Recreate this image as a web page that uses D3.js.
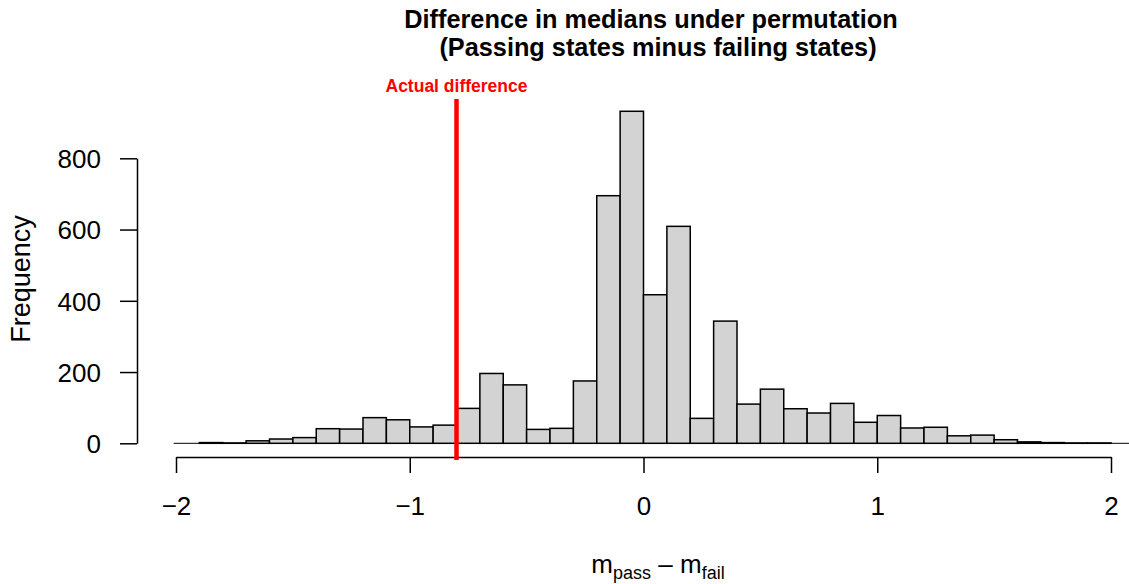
<!DOCTYPE html>
<html>
<head>
<meta charset="utf-8">
<script src="https://cdn.jsdelivr.net/npm/d3@7"></script>
<style>
  html, body { margin: 0; padding: 0; background: #ffffff; }
  svg { display: block; }
</style>
</head>
<body>
<script>
const width = 1129;
const height = 584;
const fontFamily = "'Liberation Sans', Arial, Helvetica, sans-serif";

// histogram bins (lower edge, width 0.1) and counts
const binLow = [-1.9, -1.8, -1.7, -1.6, -1.5, -1.4, -1.3, -1.2, -1.1, -1.0,
  -0.9, -0.8, -0.7, -0.6, -0.5, -0.4, -0.3, -0.2, -0.1, 0.0,
  0.1, 0.2, 0.3, 0.4, 0.5, 0.6, 0.7, 0.8, 0.9, 1.0,
  1.1, 1.2, 1.3, 1.4, 1.5, 1.6, 1.7, 1.8, 1.9];
const counts = [2, 1, 7, 12, 16, 41, 40, 72, 66, 46,
  51, 98, 196, 164, 39, 42, 175, 695, 932, 417,
  609, 70, 343, 110, 152, 97, 85, 112, 59, 78,
  43, 45, 21, 23, 10, 4, 2, 1, 1];
const binWidth = 0.1;

const xTicks = [-2, -1, 0, 1, 2];
const yTicks = [0, 200, 400, 600, 800];
const actualDifference = -0.8;

const svg = d3.select("body")
  .append("svg")
  .attr("width", width)
  .attr("height", height)
  .attr("viewBox", `0 0 ${width} ${height}`);

const x = d3.scaleLinear().domain([-2, 2]).range([176, 1111]);
const y = d3.scaleLinear().domain([0, 800]).range([443.3, 158.3]);

// zero baseline
svg.append("line")
  .attr("x1", x(-2.01))
  .attr("x2", width)
  .attr("y1", y(0))
  .attr("y2", y(0))
  .attr("stroke", "#000")
  .attr("stroke-width", 1);

svg.append("g")
  .selectAll("rect")
  .data(binLow.map((b, i) => ({ x0: b, x1: b + binWidth, n: counts[i] })))
  .join("rect")
  .attr("x", (d) => x(d.x0))
  .attr("y", (d) => y(d.n))
  .attr("width", (d) => x(d.x1) - x(d.x0))
  .attr("height", (d) => y(0) - y(d.n))
  .attr("fill", "#d3d3d3")
  .attr("stroke", "#000")
  .attr("stroke-width", 1.5);

// y axis
const yAxis = svg.append("g")
  .attr("transform", "translate(137,0)")
  .call(d3.axisLeft(y).tickValues(yTicks).tickSize(17).tickPadding(19).tickSizeOuter(0));
yAxis.select(".domain").attr("stroke-width", 1.5);
yAxis.selectAll(".tick line").attr("stroke-width", 1.5);
yAxis.selectAll(".tick text")
  .attr("font-family", fontFamily)
  .attr("font-size", 26)
  .attr("fill", "#000")
  .attr("dy", "0.36em");

// x axis
const xAxis = svg.append("g")
  .attr("transform", "translate(0,457)")
  .call(d3.axisBottom(x).tickValues(xTicks).tickSize(16).tickPadding(24).tickSizeOuter(0)
    .tickFormat(d3.format("d")));
xAxis.select(".domain").attr("stroke-width", 1.5);
xAxis.selectAll(".tick line").attr("stroke-width", 1.5);
xAxis.selectAll(".tick text")
  .attr("font-family", fontFamily)
  .attr("font-size", 26)
  .attr("fill", "#000");

// actual difference marker
svg.append("line")
  .attr("x1", x(actualDifference))
  .attr("x2", x(actualDifference))
  .attr("y1", 99)
  .attr("y2", 460)
  .attr("stroke", "#ff0000")
  .attr("stroke-width", 4.5);

svg.append("text")
  .attr("x", x(actualDifference))
  .attr("y", 92)
  .attr("text-anchor", "middle")
  .attr("font-family", fontFamily)
  .attr("font-size", 17.5)
  .attr("font-weight", "bold")
  .attr("fill", "#ff0000")
  .text("Actual difference");

// titles
const title = svg.append("text")
  .attr("text-anchor", "middle")
  .attr("font-family", fontFamily)
  .attr("font-size", 25.3)
  .attr("font-weight", "bold")
  .attr("fill", "#000");
title.append("tspan").attr("x", 651).attr("y", 28).text("Difference in medians under permutation");
title.append("tspan").attr("x", 658).attr("y", 56).text("(Passing states minus failing states)");

svg.append("text")
  .attr("transform", "translate(30,279) rotate(-90)")
  .attr("text-anchor", "middle")
  .attr("font-family", fontFamily)
  .attr("font-size", 27)
  .attr("fill", "#000")
  .text("Frequency");

const xlab = svg.append("text")
  .attr("x", 658)
  .attr("y", 573)
  .attr("text-anchor", "middle")
  .attr("font-family", fontFamily)
  .attr("font-size", 26)
  .attr("fill", "#000");
xlab.append("tspan").text("m");
xlab.append("tspan").attr("font-size", 18).attr("dy", 6).text("pass");
xlab.append("tspan").attr("dy", -6).text(" \u2013 m");
xlab.append("tspan").attr("font-size", 18).attr("dy", 6).text("fail");
</script>
</body>
</html>
